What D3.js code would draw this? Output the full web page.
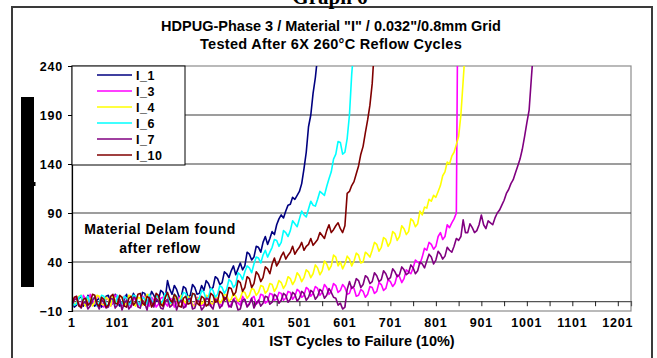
<!DOCTYPE html>
<html>
<head>
<meta charset="utf-8">
<script src="https://cdn.jsdelivr.net/npm/d3@7"></script>
<style>
  body { margin: 0; background: #fff; }
  svg text { font-family: Arial, "Liberation Sans", sans-serif; font-weight: bold; fill: #000; }
</style>
</head>
<body>
<div id="chart"></div>
<script>
// series are sampled every 5 cycles, starting at cycle 1 (one row = 50 cycles)
const cycleStep = 5;
const seriesNames = ['I_1', 'I_3', 'I_4', 'I_6', 'I_7', 'I_10'];

const i1Values = [
  2, -6, -4, 3, 5, -5, -2, 6, 4, -3,
  -5, 1, 3, -6, -3, 5, 6, -4, -2, 7,
  4, -5, -4, 2, 7, -3, 0, 8, 3, -4,
  -2, 9, 8, -1, 2, 10, 6, 0, 1, 11,
  9, 3, 21, 12, 7, 16, 12, 5, 4, 15,
  13, 4, 6, 17, 14, 7, 8, 16, 11, 21,
  18, 12, 14, 25, 23, 17, 19, 30, 28, 24,
  31, 36, 27, 33, 39, 32, 36, 50, 48, 42,
  45, 56, 55, 50, 60, 66, 58, 64, 71, 68,
  78, 84, 88, 85, 92, 98, 99, 106, 104, 108,
  112, 120, 135, 152, 178, 190, 212, 228, 250];
const i3Values = [
  -2, 3, 5, -3, -5, 6, 2, -4, 7, 1,
  -3, 5, 4, -2, -6, 2, 3, -5, -1, 6,
  5, -2, -4, 5, 2, -3, -6, 1, 4, -5,
  -2, 5, 3, -3, -5, 4, 1, -6, -3, 3,
  4, -2, -5, 3, 2, -6, -2, 4, 3, -1,
  -6, 2, 1, -5, -3, 4, 2, -4, -4, 5,
  3, -5, -2, 4, 1, -3, -5, 3, 2, -6,
  -3, 2, 4, -2, -4, 5, 1, -5, -2, 3,
  5, -3, -1, 7, 6, -2, 0, 8, 7, 1,
  2, 9, 8, 1, 3, 10, 9, 2, 5, 12,
  10, 4, 6, 14, 12, 5, 8, 15, 13, 6,
  9, 17, 14, 7, 10, 18, 16, 9, 11, 17,
  14, 7, 8, 15, 13, 5, 6, 12, 10, 4,
  7, 15, 14, 8, 10, 19, 17, 11, 13, 22,
  20, 15, 18, 27, 25, 19, 23, 32, 30, 28,
  34, 42, 40, 38, 45, 54, 52, 60, 58, 53,
  56, 66, 70, 63, 66, 78, 75, 80, 84, 90,
  420];
const i4Values = [
  4, -4, -2, 5, 6, -2, -5, 3, 3, -5,
  -1, 6, 5, -3, -4, 4, 2, -5, 6, 1,
  -3, 5, 4, -4, -2, 6, 5, -3, -5, 4,
  3, -4, 1, 7, 6, -2, -3, 5, 4, -5,
  -1, 6, 5, -2, -4, 5, 2, -3, 6, 1,
  -2, 5, 3, -4, -5, 2, 4, -3, 0, 6,
  5, -2, -3, 5, 3, -2, 1, 7, 6, 0,
  2, 8, 5, 0, 3, 10, 9, 3, 6, 13,
  12, 6, 9, 16, 15, 8, 11, 18, 17, 10,
  14, 21, 19, 13, 17, 25, 23, 17, 21, 29,
  26, 20, 24, 32, 30, 24, 28, 37, 34, 27,
  31, 41, 38, 32, 36, 47, 45, 36, 40, 33,
  38, 46, 43, 36, 41, 49, 47, 39, 40, 50,
  48, 45, 52, 60, 58, 51, 55, 65, 63, 56,
  60, 71, 69, 62, 66, 77, 74, 68, 71, 84,
  82, 76, 79, 92, 88, 96, 95, 104, 102, 108,
  106, 112, 118, 128, 132, 142, 140, 148, 152, 160,
  168, 190, 225, 260];
const i6Values = [
  3, -4, -3, 4, 6, -2, 0, 5, -4, 2,
  4, -5, -2, 6, 5, -3, -5, 3, 2, -4,
  6, 1, -3, 5, 3, -4, -1, 6, 5, -2,
  -4, 4, 2, -3, 7, 1, -2, 6, 4, -3,
  1, 8, 6, -2, -1, 7, 5, -1, 2, 9,
  8, 1, 0, 8, 6, 0, 3, 11, 9, 2,
  4, 13, 11, 4, 7, 16, 14, 8, 12, 22,
  20, 14, 17, 29, 27, 22, 30, 36, 34, 29,
  38, 45, 44, 39, 47, 52, 45, 50, 55, 63,
  62, 56, 60, 72, 70, 66, 72, 82, 79, 76,
  84, 92, 88, 86, 94, 102, 98, 97, 104, 112,
  110, 108, 117, 125, 132, 145, 150, 163, 162, 150,
  152, 166, 190, 232, 260];
const i7Values = [
  -4, 1, 3, -4, -7, -2, 0, -8, -5, 1,
  4, -3, -8, 2, -1, -7, -6, 3, 2, -7,
  -4, 2, -9, -2, 1, -8, -5, 4, 3, -6,
  -7, 1, -2, -9, 4, -1, -6, 3, 0, -7,
  -8, 0, 2, -6, -4, 3, -9, -2, 1, -7,
  -5, 2, 3, -8, -7, 1, -1, -9, -6, 3,
  2, -5, -8, 2, 0, -7, -4, 4, 3, -5,
  -6, 2, -1, -9, -8, 1, 2, -6, -3, 3,
  -7, -2, 1, -5, -2, 5, 4, -3, -1, 7,
  5, -2, 1, 8, 6, -1, 2, 9, 7, 0,
  3, 10, 8, 1, 4, 11, 9, 2, 5, 12,
  10, 3, 6, 13, 9, 4, 3, -4, -2, -8,
  -6, 12, 20, 13, 15, 23, 21, 14, 17, 26,
  24, 18, 20, 29, 26, 20, 22, 31, 28, 22,
  24, 33, 30, 25, 27, 35, 32, 27, 29, 37,
  34, 28, 31, 40, 38, 34, 41, 48, 45, 38,
  42, 51, 48, 43, 46, 55, 52, 50, 56, 64,
  62, 66, 83, 70, 70, 79, 75, 70, 72, 78,
  88, 78, 74, 82, 80, 78, 85, 90, 93, 98,
  103, 110, 114, 120, 124, 131, 138, 145, 155, 168,
  182, 195, 228, 260];
const i10Values = [
  -3, 4, 5, -5, -6, 2, 3, -4, -2, 7,
  6, -3, -5, 4, 2, -6, -4, 5, 7, -2,
  -3, 6, 4, -5, -6, 3, 5, -4, -1, 7,
  8, -2, -4, 5, 3, -6, -2, 8, 6, -3,
  -5, 4, 9, 2, -1, 7, 4, -5, -6, 3,
  5, -3, -2, 8, 7, -2, -4, 5, 3, -5,
  -3, 8, 6, -1, 0, 10, 8, 1, 4, 14,
  13, 6, 9, 21, 19, 10, 14, 25, 23, 14,
  18, 30, 27, 20, 24, 35, 33, 28, 38, 44,
  36, 40, 46, 50, 43, 47, 50, 56, 48, 52,
  55, 60, 52, 56, 58, 64, 57, 60, 63, 70,
  67, 64, 72, 78, 70, 73, 77, 80, 74, 70,
  77, 110, 112, 118, 122, 130, 138, 150, 158, 172,
  185, 200, 222, 260];

const seriesValues = [i1Values, i3Values, i4Values, i6Values, i7Values, i10Values];
const seriesColors = ['#000080', '#ff00ff', '#ffff00', '#00ffff', '#800080', '#800000'];

const yTicks = [-10, 40, 90, 140, 190, 240];
const xLabelTicks = [1, 101, 201, 301, 401, 501, 601, 701, 801, 901, 1001, 1101, 1201];
const xMinorTicks = [1, 51, 101, 151, 201, 251, 301, 351, 401, 451, 501, 551, 601,
  651, 701, 751, 801, 851, 901, 951, 1001, 1051, 1101, 1151, 1201];

const W = 657, H = 358;
const plot = { left: 72, right: 631, top: 66, bottom: 311 };

const svg = d3.select('#chart').append('svg')
  .attr('width', W).attr('height', H);

svg.append('rect').attr('width', W).attr('height', H).attr('fill', '#fff');

// outer chart frame (runs off the bottom of the picture)
svg.append('rect')
  .attr('x', 12).attr('y', 7).attr('width', 640).attr('height', 370)
  .attr('fill', 'none').attr('stroke', '#3a3a3a').attr('stroke-width', 2);

// page heading, cut off at the top edge as in the source
svg.append('text')
  .attr('x', 330).attr('y', 4)
  .attr('text-anchor', 'middle')
  .style('font-family', '"Liberation Serif", "Times New Roman", serif')
  .style('font-size', '21px')
  .text('Graph 6');

const x = d3.scaleLinear().domain([1, 1230]).range([plot.left, plot.right]);
const y = d3.scaleLinear().domain([-10, 240]).range([plot.bottom, plot.top]);

svg.append('defs').append('clipPath').attr('id', 'plotClip')
  .append('rect')
  .attr('x', plot.left).attr('y', plot.top)
  .attr('width', plot.right - plot.left).attr('height', plot.bottom - plot.top);

// plot area border
svg.append('rect')
  .attr('x', plot.left).attr('y', plot.top)
  .attr('width', plot.right - plot.left).attr('height', plot.bottom - plot.top)
  .attr('fill', '#fff').attr('stroke', '#8c8c8c').attr('stroke-width', 1.2);

// horizontal gridlines
svg.append('g')
  .selectAll('line')
  .data(yTicks.filter(d => d > -10 && d < 240))
  .enter().append('line')
  .attr('x1', plot.left).attr('x2', plot.right)
  .attr('y1', d => y(d)).attr('y2', d => y(d))
  .attr('stroke', '#3c3c3c').attr('stroke-width', 1.2);

// x axis sits at value 0
const xAxisG = svg.append('g')
  .attr('transform', `translate(0,${y(0)})`)
  .call(d3.axisBottom(x).tickValues(xMinorTicks).tickSize(5).tickFormat(''));
xAxisG.select('.domain').attr('stroke', '#555').attr('stroke-width', 1.2);
xAxisG.selectAll('.tick line').attr('stroke', '#222');

svg.append('g')
  .selectAll('text')
  .data(xLabelTicks)
  .enter().append('text')
  .attr('x', d => x(d)).attr('y', 327)
  .attr('text-anchor', 'middle')
  .style('font-size', '12.5px')
  .style('letter-spacing', '0.8px')
  .text(d => d);

// series lines
const line = d3.line()
  .x((d, i) => x(1 + i * cycleStep))
  .y(d => y(d));

svg.append('g')
  .attr('clip-path', 'url(#plotClip)')
  .selectAll('path')
  .data(seriesValues)
  .enter().append('path')
  .attr('d', d => line(d))
  .attr('fill', 'none')
  .attr('stroke', (d, i) => seriesColors[i])
  .attr('stroke-width', 1.6)
  .attr('stroke-linejoin', 'round');

// y axis
const yAxisG = svg.append('g')
  .attr('transform', `translate(${plot.left},0)`)
  .call(d3.axisLeft(y).tickValues(yTicks).tickSize(4).tickPadding(5));
yAxisG.select('.domain').attr('stroke', '#000').attr('stroke-width', 1.2);
yAxisG.selectAll('.tick line').attr('stroke', '#000');
yAxisG.selectAll('.tick text')
  .style('font-size', '12.5px')
  .style('letter-spacing', '0.8px')
  .style('font-family', 'Arial, "Liberation Sans", sans-serif')
  .style('font-weight', 'bold')
  .attr('fill', '#000');

// titles
svg.append('text')
  .attr('x', 331).attr('y', 31)
  .attr('text-anchor', 'middle')
  .style('font-size', '14.5px')
  .text('HDPUG-Phase 3 / Material "I" / 0.032"/0.8mm Grid');
svg.append('text')
  .attr('x', 331).attr('y', 49)
  .attr('text-anchor', 'middle')
  .style('font-size', '14.5px')
  .style('letter-spacing', '0.3px')
  .text('Tested After 6X 260\u00b0C Reflow Cycles');

svg.append('text')
  .attr('x', 362).attr('y', 346)
  .attr('text-anchor', 'middle')
  .style('font-size', '14.5px')
  .text('IST Cycles to Failure (10%)');

// annotation
const note = svg.append('text')
  .attr('text-anchor', 'middle')
  .style('font-size', '14px')
  .style('letter-spacing', '0.5px');
note.append('tspan').attr('x', 160).attr('y', 234).text('Material Delam found');
note.append('tspan').attr('x', 160).attr('y', 253).text('after reflow');

// blacked-out y axis title
svg.append('rect')
  .attr('x', 21).attr('y', 97).attr('width', 13).attr('height', 190)
  .attr('fill', '#000');
svg.append('rect')
  .attr('x', 34).attr('y', 182).attr('width', 1.5).attr('height', 4)
  .attr('fill', '#000');

// legend
const legend = svg.append('g');
legend.append('rect')
  .attr('x', plot.left).attr('y', plot.top)
  .attr('width', 113).attr('height', 99)
  .attr('fill', '#fff').attr('stroke', '#000').attr('stroke-width', 1);

const legendRows = legend.selectAll('g.row')
  .data(seriesNames)
  .enter().append('g')
  .attr('class', 'row')
  .attr('transform', (d, i) => `translate(0,${75 + i * 16})`);
legendRows.append('line')
  .attr('x1', 97).attr('x2', 132)
  .attr('stroke', (d, i) => seriesColors[i])
  .attr('stroke-width', 1.5);
legendRows.append('text')
  .attr('x', 136).attr('y', 4.5)
  .style('font-size', '12.5px')
  .style('letter-spacing', '0.5px')
  .text(d => d);
</script>
</body>
</html>
